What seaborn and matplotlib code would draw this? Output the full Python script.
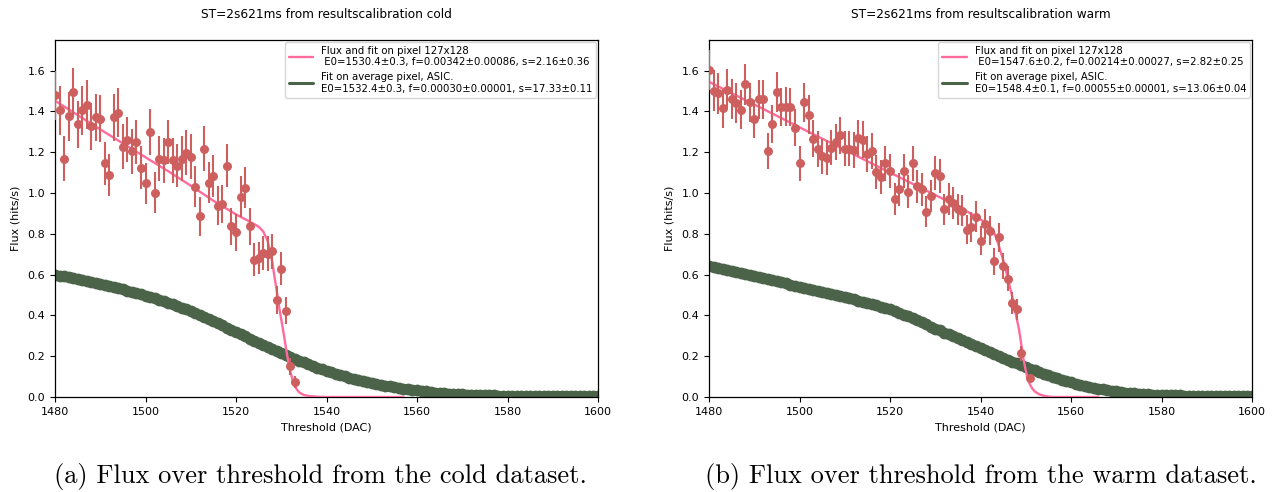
import numpy as np
import pandas as pd
import matplotlib
matplotlib.use("Agg")
import matplotlib.pyplot as plt
import seaborn as sns

# ---------------- data ----------------
thr_cold = list(range(1480, 1534))
flux_cold = [1.478, 1.405, 1.167, 1.376, 1.494, 1.337, 1.405, 1.432, 1.327, 1.372,
             1.364, 1.145, 1.088, 1.372, 1.393, 1.226, 1.262, 1.205, 1.250, 1.124,
             1.047, 1.299, 1.002, 1.169, 1.161, 1.250, 1.161, 1.133, 1.169, 1.197,
             1.177, 1.031, 0.885, 1.218, 1.050, 1.083, 0.937, 0.946, 1.133, 0.836,
             0.808, 0.982, 1.026, 0.836, 0.673, 0.681, 0.706, 0.702, 0.714, 0.475,
             0.629, 0.424, 0.150, 0.075]
err_cold = [0.12, 0.12, 0.11, 0.12, 0.12, 0.115, 0.12, 0.12, 0.115, 0.115,
            0.115, 0.105, 0.105, 0.115, 0.12, 0.11, 0.11, 0.11, 0.11, 0.105,
            0.10, 0.115, 0.10, 0.11, 0.11, 0.11, 0.11, 0.105, 0.11, 0.11,
            0.11, 0.10, 0.095, 0.11, 0.10, 0.105, 0.095, 0.095, 0.105, 0.09,
            0.09, 0.10, 0.10, 0.09, 0.08, 0.08, 0.085, 0.085, 0.085, 0.07,
            0.08, 0.065, 0.04, 0.03]

thr_warm = list(range(1480, 1550)) + [1551]
flux_warm = [1.603, 1.502, 1.489, 1.416, 1.506, 1.462, 1.441, 1.408, 1.532, 1.445,
             1.364, 1.459, 1.459, 1.205, 1.337, 1.494, 1.421, 1.424, 1.421, 1.320,
             1.145, 1.445, 1.384, 1.267, 1.215, 1.180, 1.174, 1.223, 1.250, 1.283,
             1.218, 1.218, 1.211, 1.270, 1.262, 1.190, 1.206, 1.104, 1.077, 1.145,
             1.109, 0.969, 1.018, 1.109, 1.006, 1.145, 1.034, 1.018, 0.909, 0.985,
             1.099, 1.083, 0.920, 0.969, 0.950, 0.920, 0.912, 0.820, 0.833, 0.884,
             0.767, 0.849, 0.815, 0.665, 0.784, 0.644, 0.580, 0.462, 0.429, 0.215,
             0.091]
err_warm = [0.10, 0.10, 0.10, 0.095, 0.10, 0.097, 0.096, 0.095, 0.10, 0.096,
            0.093, 0.097, 0.097, 0.088, 0.092, 0.098, 0.095, 0.095, 0.095, 0.092,
            0.086, 0.096, 0.094, 0.09, 0.088, 0.087, 0.087, 0.088, 0.089, 0.09,
            0.088, 0.088, 0.088, 0.09, 0.09, 0.087, 0.088, 0.084, 0.083, 0.086,
            0.084, 0.079, 0.081, 0.084, 0.08, 0.086, 0.081, 0.081, 0.076, 0.079,
            0.084, 0.083, 0.077, 0.079, 0.078, 0.077, 0.076, 0.072, 0.073, 0.075,
            0.07, 0.074, 0.072, 0.065, 0.071, 0.064, 0.061, 0.054, 0.052, 0.037,
            0.024]

# fit on the single pixel
fit_x_cold = [1480, 1485, 1490, 1495, 1500, 1505, 1510, 1515, 1520, 1523, 1525, 1526,
              1527, 1528, 1528.5, 1529, 1529.5, 1530, 1530.5, 1531, 1531.5, 1532,
              1532.5, 1533, 1533.5, 1534, 1535, 1536, 1538, 1540, 1557]
fit_y_cold = [1.452, 1.382, 1.312, 1.243, 1.175, 1.107, 1.036, 0.962, 0.895, 0.860,
              0.835, 0.812, 0.765, 0.665, 0.590, 0.520, 0.445, 0.380, 0.316, 0.245,
              0.180, 0.125, 0.085, 0.055, 0.035, 0.022, 0.010, 0.005, 0.001, 0.0, 0.0]
fit_x_warm = [1480, 1490, 1500, 1510, 1520, 1530, 1535, 1538, 1540, 1542, 1543, 1544,
              1545, 1545.5, 1546, 1546.5, 1547, 1547.5, 1548, 1548.5, 1549, 1549.5,
              1550, 1550.5, 1551, 1551.5, 1552, 1553, 1554, 1555, 1556, 1566]
fit_y_warm = [1.545, 1.434, 1.322, 1.211, 1.100, 0.990, 0.935, 0.897, 0.870, 0.840,
              0.808, 0.745, 0.672, 0.630, 0.585, 0.540, 0.494, 0.440, 0.385, 0.332,
              0.260, 0.185, 0.130, 0.085, 0.058, 0.040, 0.027, 0.013, 0.006, 0.002,
              0.0, 0.0]

# fit on the average pixel (one value per DAC step)
avg_x = list(range(1480, 1601))
avg_cold = [0.600, 0.595, 0.591, 0.586, 0.582, 0.577, 0.572, 0.568, 0.563, 0.558,
            0.553, 0.548, 0.543, 0.538, 0.532, 0.527, 0.521, 0.515, 0.509, 0.503,
            0.497, 0.490, 0.484, 0.477, 0.469, 0.462, 0.454, 0.446, 0.437, 0.429,
            0.420, 0.411, 0.401, 0.392, 0.382, 0.372, 0.361, 0.351, 0.340, 0.329,
            0.318, 0.307, 0.297, 0.286, 0.276, 0.265, 0.255, 0.245, 0.235, 0.225,
            0.215, 0.206, 0.196, 0.187, 0.178, 0.170, 0.161, 0.153, 0.144, 0.136,
            0.128, 0.121, 0.114, 0.108, 0.101, 0.095, 0.090, 0.085, 0.080, 0.075,
            0.070, 0.065, 0.061, 0.056, 0.052, 0.048, 0.045, 0.041, 0.038, 0.035,
            0.032, 0.029, 0.027, 0.025, 0.022, 0.020, 0.019, 0.017, 0.016, 0.014,
            0.013, 0.012, 0.011, 0.010, 0.010, 0.009, 0.008, 0.008, 0.007, 0.007,
            0.006, 0.006, 0.006, 0.005, 0.005, 0.005, 0.005, 0.005, 0.004, 0.004,
            0.004, 0.004, 0.004, 0.004, 0.004, 0.004, 0.003, 0.003, 0.003, 0.003,
            0.003]
avg_warm = [0.640, 0.635, 0.630, 0.626, 0.621, 0.616, 0.611, 0.606, 0.602, 0.597,
            0.592, 0.587, 0.582, 0.577, 0.572, 0.567, 0.562, 0.557, 0.551, 0.546,
            0.540, 0.535, 0.530, 0.524, 0.519, 0.514, 0.509, 0.504, 0.499, 0.494,
            0.489, 0.484, 0.478, 0.473, 0.468, 0.462, 0.456, 0.450, 0.443, 0.436,
            0.429, 0.421, 0.412, 0.404, 0.395, 0.385, 0.376, 0.366, 0.356, 0.345,
            0.335, 0.326, 0.316, 0.307, 0.297, 0.288, 0.278, 0.269, 0.259, 0.250,
            0.240, 0.230, 0.220, 0.210, 0.200, 0.190, 0.181, 0.173, 0.165, 0.158,
            0.148, 0.139, 0.130, 0.122, 0.114, 0.106, 0.099, 0.092, 0.085, 0.078,
            0.072, 0.066, 0.061, 0.055, 0.050, 0.045, 0.041, 0.037, 0.033, 0.030,
            0.027, 0.024, 0.022, 0.020, 0.018, 0.016, 0.015, 0.013, 0.012, 0.011,
            0.010, 0.009, 0.009, 0.008, 0.008, 0.007, 0.007, 0.006, 0.006, 0.006,
            0.005, 0.005, 0.005, 0.005, 0.005, 0.005, 0.004, 0.004, 0.004, 0.004,
            0.004]

titles = ["ST=2s621ms from resultscalibration cold",
          "ST=2s621ms from resultscalibration warm"]
pixel_labels = ["Flux and fit on pixel 127x128\n E0=1530.4\u00b10.3, f=0.00342\u00b10.00086, s=2.16\u00b10.36",
                "Flux and fit on pixel 127x128\n E0=1547.6\u00b10.2, f=0.00214\u00b10.00027, s=2.82\u00b10.25"]
avg_labels = ["Fit on average pixel, ASIC.\nE0=1532.4\u00b10.3, f=0.00030\u00b10.00001, s=17.33\u00b10.11",
              "Fit on average pixel, ASIC.\nE0=1548.4\u00b10.1, f=0.00055\u00b10.00001, s=13.06\u00b10.04"]
captions = ["(a) Flux over threshold from the cold dataset.",
            "(b) Flux over threshold from the warm dataset."]
xticks = [1480, 1500, 1520, 1540, 1560, 1580, 1600]
yticks = [0.0, 0.2, 0.4, 0.6, 0.8, 1.0, 1.2, 1.4, 1.6]

# ---------------- style ----------------
sns.set_style("ticks", rc={"axes.edgecolor": "black", "xtick.color": "black",
                           "ytick.color": "black", "text.color": "black",
                           "axes.labelcolor": "black"})
plt.rcParams["font.family"] = ["DejaVu Sans"]

RED = "#cd5f5f"
PINK = "#ff6b9e"
GREEN = "#4b6349"

fig = plt.figure(figsize=(12.79, 4.92), dpi=100)
W, H = 1279, 492
axes = [fig.add_axes([55 / W, 95 / H, 543 / W, 357 / H]),
        fig.add_axes([709 / W, 95 / H, 543 / W, 357 / H])]

datasets = [
    (thr_cold, flux_cold, err_cold, fit_x_cold, fit_y_cold, avg_cold),
    (thr_warm, flux_warm, err_warm, fit_x_warm, fit_y_warm, avg_warm),
]

for i, (ax, (tx, fy, fe, fxx, fyy, avg)) in enumerate(zip(axes, datasets)):
    sns.lineplot(x=avg_x, y=avg, ax=ax, color=GREEN, lw=2.2, label=avg_labels[i],
                 sort=False, estimator=None, zorder=2)
    sns.scatterplot(x=avg_x, y=avg, ax=ax, color=GREEN, s=72, linewidth=0,
                    legend=False, zorder=2)
    sns.lineplot(x=fxx, y=fyy, ax=ax, color=PINK, lw=1.7, label=pixel_labels[i],
                 sort=False, estimator=None, zorder=3)
    ax.errorbar(tx, fy, yerr=fe, fmt="none", ecolor=RED, elinewidth=1.5, zorder=4)
    sns.scatterplot(x=tx, y=fy, ax=ax, color=RED, s=42, linewidth=0,
                    legend=False, zorder=5)

    ax.set_xlim(1480, 1600)
    ax.set_ylim(0, 1.75)
    ax.set_xticks(xticks)
    ax.set_yticks(yticks)
    ax.set_xticklabels([str(v) for v in xticks], fontsize=8)
    ax.set_yticklabels([f"{v:.1f}" for v in yticks], fontsize=8)
    ax.set_xlabel("Threshold (DAC)", fontsize=8)
    ax.set_ylabel("Flux (hits/s)", fontsize=8, labelpad=5)
    ax.set_title(titles[i], fontsize=8.7, pad=16)
    for sp in ax.spines.values():
        sp.set_visible(True)
        sp.set_linewidth(0.9)

    handles, labels = ax.get_legend_handles_labels()
    order = [labels.index(pixel_labels[i]), labels.index(avg_labels[i])]
    ax.legend([handles[k] for k in order], [labels[k] for k in order],
              loc="upper right", fontsize=7.3, borderaxespad=0.15,
              handlelength=2.4, frameon=True)

fig.text(320 / W, 1 - 476 / H, captions[0], ha="center", va="center",
         fontsize=19, family="cmr10")
fig.text(981 / W, 1 - 476 / H, captions[1], ha="center", va="center",
         fontsize=19, family="cmr10")

fig.savefig("out.png", dpi=100, facecolor="white")
